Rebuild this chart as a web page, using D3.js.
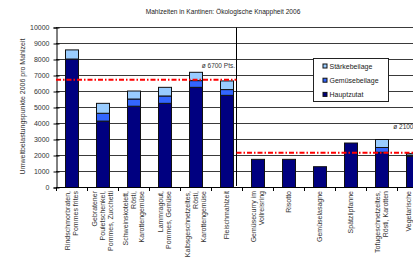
<!DOCTYPE html>
<html>
<head>
<meta charset="utf-8">
<script src="https://cdn.jsdelivr.net/npm/d3@7"></script>
<style>
  body { margin: 0; background: #fff; }
  svg { display: block; font-family: "Liberation Sans", Arial, sans-serif; }
</style>
</head>
<body>
<svg id="chart"></svg>
<script>
// categories (line breaks as in the original labels)
const categories = [
  "Rindschmorbraten,|Pommes frites",
  "Gebratener|Pouletschenkel,|Pommes, Zucchetti",
  "Schweinskotelett,|Rösti,|Karottengemüse",
  "Lammragout,|Pommes, Gemüse",
  "Kalbsgeschnetzeltes,|Rösti,|Karottengemüse",
  "Fleischmahlzeit",
  "Gemüsecurry im|Vollreisring",
  "Risotto",
  "Gemüselasagne",
  "Spätzlipfanne",
  "Tofugeschnetzeltes,|Rösti, Karotten",
  "Vegetarische|Mahlzeit"
];
const hauptzutat    = [8030, 4150, 5080, 5260, 6260, 5760, 1760, 1760, 1300, 2780, 2200, 1960];
const gemuesebeilage = [0, 490, 450, 460, 420, 360, 0, 0, 0, 0, 300, 60];
const staerkebeilage = [570, 620, 500, 540, 520, 540, 0, 0, 0, 0, 500, 100];

const seriesNames = ["Hauptzutat", "Gemüsebeilage", "Stärkebeilage"];
const seriesColors = ["#000080", "#3366ff", "#99ccff"];

const yTicks = [0, 1000, 2000, 3000, 4000, 5000, 6000, 7000, 8000, 9000, 10000];
const averages = [6740, 2170];
const averageLabels = ["ø 6700 Pts.", "ø 2100 Pts."];

const title = "Mahlzeiten in Kantinen: Ökologische Knappheit 2006";
const yTitle = "Umweltbelastungspunkte 2006 pro Mahlzeit";

let width = 413;
let height = 258;
let svg = d3.select("#chart").attr("width", width).attr("height", height);

let x = d3.scaleBand()
  .domain(categories)
  .range([56, 428])
  .paddingInner(0.58)
  .paddingOuter(0.29);

let y = d3.scaleLinear().domain([0, 10000]).range([187.5, 27.5]);

let rows = categories.map((c, i) => ({
  cat: c,
  Hauptzutat: hauptzutat[i],
  "Gemüsebeilage": gemuesebeilage[i],
  "Stärkebeilage": staerkebeilage[i]
}));
let stacked = d3.stack().keys(seriesNames)(rows);

// title
svg.append("text")
  .attr("x", 223).attr("y", 14)
  .attr("text-anchor", "middle")
  .attr("font-size", 6.6).attr("fill", "#222")
  .text(title);

// gridlines
svg.append("g")
  .selectAll("line")
  .data(yTicks.filter(d => d > 0))
  .enter().append("line")
  .attr("x1", 56).attr("x2", 428)
  .attr("y1", d => y(d)).attr("y2", d => y(d))
  .attr("stroke", "#3a3a3a").attr("stroke-width", 1);

// y axis
let yAxis = svg.append("g")
  .attr("transform", "translate(56.5,0)")
  .call(d3.axisLeft(y).tickValues(yTicks).tickSize(3).tickPadding(4).tickFormat(d3.format("d")));
yAxis.select(".domain").attr("stroke", "#000");
yAxis.selectAll(".tick line").attr("x1", 3).attr("x2", -3).attr("stroke", "#000");
yAxis.selectAll(".tick text").attr("font-size", 7).attr("fill", "#333").attr("font-family", null);

svg.append("text")
  .attr("transform", "translate(25," + 106.5 + ") rotate(-90)")
  .attr("text-anchor", "middle")
  .attr("font-size", 7).attr("fill", "#333")
  .text(yTitle);

// bars
svg.append("g")
  .selectAll("g")
  .data(stacked)
  .enter().append("g")
  .attr("fill", (d, i) => seriesColors[i])
  .selectAll("rect")
  .data(d => d.filter(p => p[1] - p[0] > 0))
  .enter().append("rect")
  .attr("x", d => Math.round(x(d.data.cat)) + 0.5)
  .attr("width", Math.round(x.bandwidth()))
  .attr("y", d => y(d[1]))
  .attr("height", d => y(d[0]) - y(d[1]))
  .attr("stroke", "#111").attr("stroke-width", 1);

// separator between meat and vegetarian meals
let sepX = Math.round(x(categories[5]) + x.bandwidth() + 3) + 0.5;
svg.append("line")
  .attr("x1", sepX).attr("x2", sepX)
  .attr("y1", y(10000)).attr("y2", 186)
  .attr("stroke", "#000").attr("stroke-width", 1);

// x axis
let xAxisG = svg.append("g");
xAxisG.append("line")
  .attr("x1", 56).attr("x2", 428)
  .attr("y1", y(0)).attr("y2", y(0))
  .attr("stroke", "#000");
let tickXs = categories.map(c => x(c) - x.step() * x.paddingInner() / 2).concat([428]);
xAxisG.selectAll(".xt")
  .data(tickXs)
  .enter().append("line")
  .attr("class", "xt")
  .attr("x1", d => Math.round(d) + 0.5).attr("x2", d => Math.round(d) + 0.5)
  .attr("y1", y(0)).attr("y2", y(0) + 3.5)
  .attr("stroke", "#000");

// category labels
categories.forEach(c => {
  let lines = c.split("|");
  let cx = x(c) + x.bandwidth() / 2;
  lines.forEach((ln, i) => {
    let lx = cx + (i - (lines.length - 1) / 2) * 8 + 2.5;
    svg.append("text")
      .attr("transform", "translate(" + lx + ",191) rotate(-90)")
      .attr("text-anchor", "end")
      .attr("font-size", 7).attr("fill", "#333")
      .text(ln);
  });
});

// average lines
let avgRanges = [[56, sepX], [sepX, 428]];
let labelLift = [12, 24];
averages.forEach((a, i) => {
  svg.append("line")
    .attr("x1", avgRanges[i][0]).attr("x2", avgRanges[i][1])
    .attr("y1", y(a)).attr("y2", y(a))
    .attr("stroke", "#ff0000").attr("stroke-width", 2)
    .attr("stroke-dasharray", "5,2,1.5,2");
  svg.append("text")
    .attr("x", avgRanges[i][1] - 1.5)
    .attr("y", y(a) - labelLift[i])
    .attr("text-anchor", "end")
    .attr("font-size", 6.5).attr("fill", "#333")
    .text(averageLabels[i]);
});

// legend
let legend = svg.append("g").attr("transform", "translate(313.5,58.5)");
legend.append("rect")
  .attr("width", 75).attr("height", 43)
  .attr("fill", "#fff").attr("stroke", "#222");
let legendOrder = [2, 1, 0];
legendOrder.forEach((s, i) => {
  let ry = 8 + i * 14.2;
  legend.append("rect")
    .attr("x", 9.5).attr("y", ry - 2.5)
    .attr("width", 4).attr("height", 4)
    .attr("fill", seriesColors[s]).attr("stroke", "#111");
  legend.append("text")
    .attr("x", 16).attr("y", ry + 2.5)
    .attr("font-size", 7).attr("fill", "#222")
    .text(seriesNames[s]);
});
</script>
</body>
</html>
